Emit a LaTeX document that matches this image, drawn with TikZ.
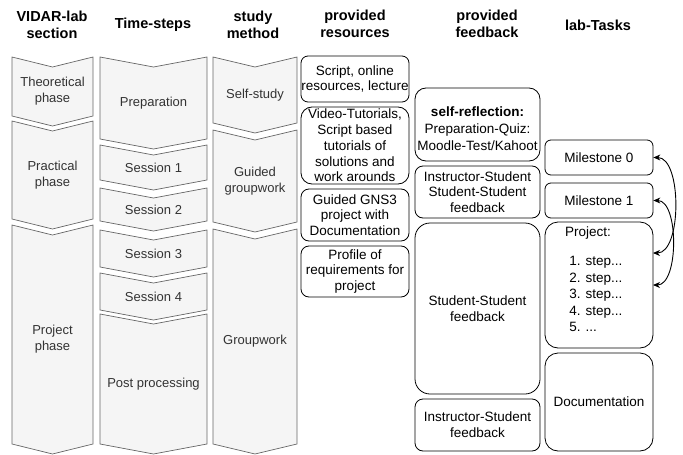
\documentclass[tikz,border=0pt]{standalone}
\usepackage{fontspec}
\setmainfont{Liberation Sans}
\usetikzlibrary{arrows.meta}
\newcommand\mychev[6]{%
  \draw[chev] ({#1},{#3}) -- ({(#1+#2)/2},{#3+10}) -- ({#2},{#3}) -- ({#2},{#4}) -- ({(#1+#2)/2},{#4+10}) -- ({#1},{#4}) -- cycle;
  \node[chevtext] (#5) at ({(#1+#2)/2},{(#3+#4+10)/2}) {#6};%
}
\begin{document}
\begin{tikzpicture}[x=1pt,y=-1pt,
  chev/.style={draw=black!60, fill=black!4, line width=0.7pt, line join=miter},
  chevtext/.style={text=black!80, align=center, inner sep=0pt, font=\fontsize{13}{16}\selectfont},
  head/.style={align=center, inner sep=0pt, font=\fontsize{14.5}{16.5}\selectfont\bfseries},
  box/.style={draw=black, fill=white, line width=0.8pt, align=center, inner sep=0pt, font=\fontsize{13.5}{15.7}\selectfont},
  link/.style={line width=0.9pt, {Stealth[length=7pt,width=6pt]}-{Stealth[length=7pt,width=6pt]}}
]
\useasboundingbox (0,0) rectangle (683,455);

% headers
\node[head] (h1) at (52,25) {VIDAR-lab\\section};
\node[head] (h2) at (153,25) {Time-steps};
\node[head] (h3) at (253,25) {study\\method};
\node[head] (h4) at (355,24) {provided\\resources};
\node[head] (h5) at (487,24) {provided\\feedback};
\node[head] (h6) at (598,25) {lab-Tasks};

% column 1
\mychev{12}{93}{57}{116}{c1a}{Theoretical\\phase}
\mychev{12}{93}{121}{219}{c1b}{Practical\\phase}
\mychev{12}{93}{225}{444}{c1c}{Project\\phase}

% column 2
\mychev{100}{207}{57}{139}{c2a}{Preparation}
\mychev{100}{207}{145}{180}{c2b}{Session 1}
\mychev{100}{207}{188}{221}{c2c}{Session 2}
\mychev{100}{207}{230}{267}{c2d}{Session 3}
\mychev{100}{207}{273}{310}{c2e}{Session 4}
\mychev{100}{207}{314}{444}{c2f}{Post processing}

% column 3
\mychev{213}{297}{57}{123}{c3a}{Self-study}
\mychev{213}{297}{130}{222}{c3b}{Guided\\groupwork}
\mychev{213}{297}{229}{444}{c3c}{Groupwork}

% resources
\node[box, rounded corners=7pt, minimum width=108pt, minimum height=46pt] (r1) at (355,79) {Script, online\\resources, lecture};
\node[box, rounded corners=11pt, minimum width=108pt, minimum height=77pt] (r2) at (355,145.5) {Video-Tutorials,\\Script based\\tutorials of\\solutions and\\work arounds};
\node[box, rounded corners=8pt, minimum width=108pt, minimum height=52pt] (r3) at (355,215) {Guided GNS3\\project with\\Documentation};
\node[box, rounded corners=8pt, minimum width=108pt, minimum height=51pt] (r4) at (355,271.5) {Profile of\\requirements for\\project};

% feedback
\node[box, rounded corners=11pt, minimum width=125pt, minimum height=73pt] (f1) at (477.5,124.5) {};
\node[box, draw=none, fill=none, font=\fontsize{13.5}{17}\selectfont] (f1t) at (477.5,129) {\textbf{self-reflection:}\\Preparation-Quiz:\\Moodle-Test/Kahoot};
\node[box, rounded corners=8pt, minimum width=125pt, minimum height=52pt] (f2) at (477.5,192) {Instructor-Student\\Student-Student\\feedback};
\node[box, rounded corners=15pt, minimum width=125pt, minimum height=171pt] (f3) at (477.5,308.5) {Student-Student\\feedback};
\node[box, rounded corners=8pt, minimum width=125pt, minimum height=52pt] (f4) at (477.5,425) {Instructor-Student\\feedback};

% lab tasks
\node[box, rounded corners=6pt, minimum width=108pt, minimum height=35pt] (m0) at (599,157.5) {Milestone 0};
\node[box, rounded corners=6pt, minimum width=108pt, minimum height=35pt] (m1) at (599,200.5) {Milestone 1};
\node[box, rounded corners=13pt, minimum width=108pt, minimum height=126pt] (prj) at (599,285) {};
\node[box, draw=none, fill=none] (prjt) at (588,233) {Project:};
\node[box, draw=none, fill=none, align=left, anchor=north west, font=\fontsize{13.5}{16.5}\selectfont] (prjl) at (569,256) {1. step...\\2. step...\\3. step...\\4. step...\\5. ...};
\node[box, rounded corners=13pt, minimum width=108pt, minimum height=98pt] (doc) at (599,402) {Documentation};

% arrows
\coordinate (pa) at (653,253);
\coordinate (pb) at (653,285);
\draw[link] (m0.east) .. controls (682,157.5) and (682,253) .. (pa);
\draw[link] (m1.east) .. controls (679,200.5) and (679,285) .. (pb);
\end{tikzpicture}
\end{document}
